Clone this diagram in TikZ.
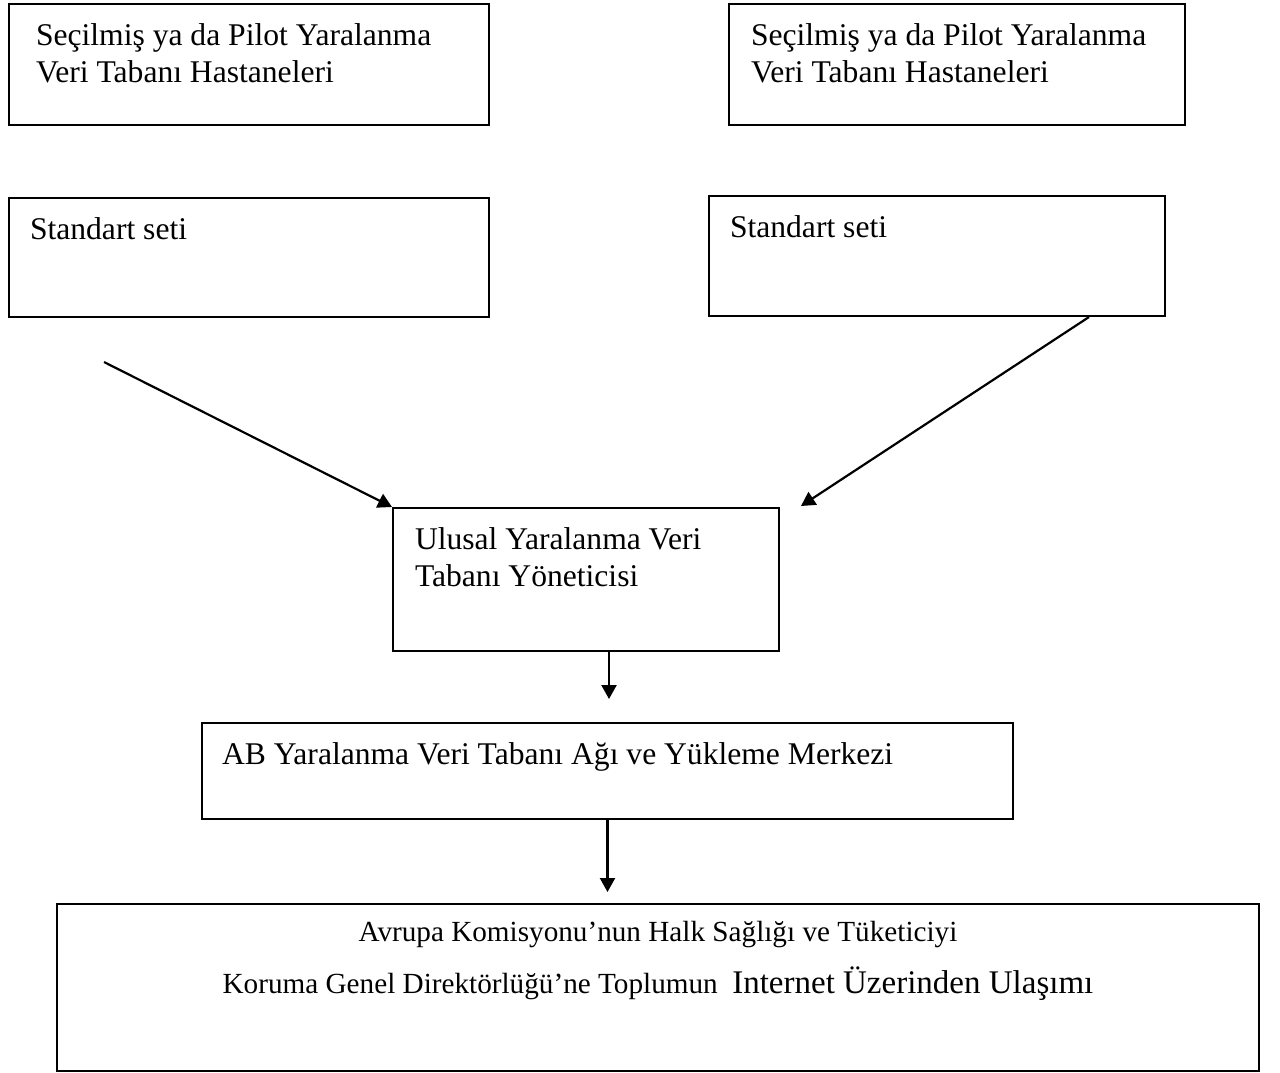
\documentclass[tikz,border=0pt]{standalone}
\usepackage{fontspec}
\setmainfont{Liberation Serif}
\usetikzlibrary{arrows.meta}
\newcommand{\boxlines}[3]{\parbox[t][#2][t]{#1}{\strut#3}}
\tikzset{
  box/.style={draw, line width=1pt, anchor=north west, inner ysep=8pt,
              font=\fontsize{15.8pt}{18.3pt}\selectfont},
  flow/.style={-{Triangle[length=7pt, width=7.5pt]}, line width=1.1pt},
}
\begin{document}
\begin{tikzpicture}[x=0.5pt, y=-0.5pt]
  \useasboundingbox (0,0) rectangle (1280,1072);
  % hospitals
  \node[box, inner xsep=13.5pt] (hosp1) at (8,3) {\boxlines{213pt}{44.5pt}{Seçilmiş ya da Pilot Yaralanma\\Veri Tabanı Hastaneleri}};
  \node[box, inner xsep=11pt] (hosp2) at (728,3) {\boxlines{206pt}{44.5pt}{Seçilmiş ya da Pilot Yaralanma\\Veri Tabanı Hastaneleri}};
  % standard sets
  \node[box, inner xsep=10.5pt] (set1) at (8,197) {\boxlines{219pt}{43.5pt}{Standart seti}};
  \node[box, inner xsep=10.5pt] (set2) at (708,195) {\boxlines{207pt}{44pt}{Standart seti}};
  % national, EU, commission
  \node[box, inner xsep=11pt] (ulusal) at (392,507) {\boxlines{171pt}{55.5pt}{Ulusal Yaralanma Veri\\Tabanı Yöneticisi}};
  \node[box, inner xsep=10pt] (ab) at (201,722) {\boxlines{385.5pt}{32pt}{AB Yaralanma Veri Tabanı Ağı ve Yükleme Merkezi}};
  \node[box, inner xsep=10pt, inner ysep=0.3pt, font=\fontsize{14.6pt}{26pt}\selectfont] (avrupa) at (56,903)
    {\boxlines{581pt}{82.9pt}{\centering Avrupa Komisyonu’nun Halk Sağlığı ve Tüketiciyi\\Koruma Genel Direktörlüğü’ne Toplumun~ {\fontsize{16.5pt}{26pt}\selectfont Internet Üzerinden Ulaşımı}}};

  \coordinate (leftin) at (104,362);
  \coordinate (rightin) at (801,506);
  \coordinate (ulusalout) at ([xshift=11.5pt]ulusal.south);
  \coordinate (abin) at ([yshift=-23.5pt]ulusalout);
  \coordinate (avrupain) at ([yshift=-36pt]ab.south);
  \draw[flow] (leftin) -- (ulusal.north west);
  \draw[flow] ([xshift=-38.5pt]set2.south east) -- (rightin);
  \draw[flow] (ulusalout) -- (abin);
  \draw[flow] (ab.south) -- (avrupain);
\end{tikzpicture}
\end{document}
